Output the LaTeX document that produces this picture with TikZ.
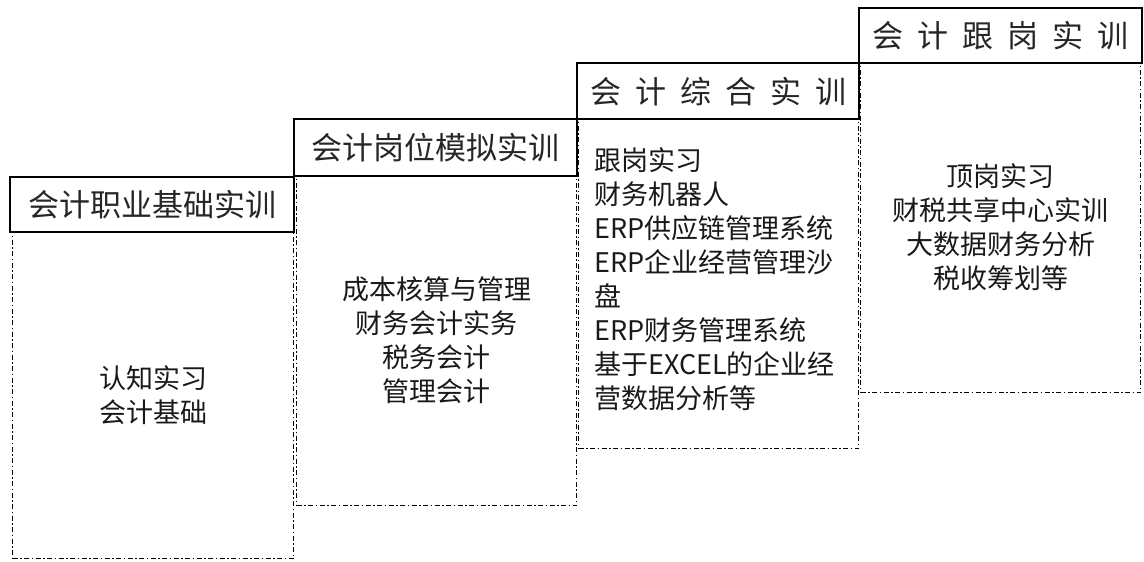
\documentclass[tikz,border=0pt]{standalone}
\usepackage{fontspec}
\setmainfont{Noto Sans CJK SC}
\newcommand{\hgap}{\hspace{14pt}}
\begin{document}
\begin{tikzpicture}[x=1pt,y=-1pt,
  headbox/.style={draw=black, line width=2.4pt, anchor=north west, inner sep=0pt,
    font=\fontsize{31}{36}\selectfont, text=black!85},
  bodybox/.style={draw=black, line width=1.3pt,
    dash pattern=on 5pt off 2.5pt on 1.5pt off 2.5pt,
    anchor=north west, inner sep=0pt, align=center,
    font=\fontsize{27}{34}\selectfont, text=black!90},
  bodytext/.style={align=left, inner sep=0pt,
    font=\fontsize{27}{34}\selectfont, text=black!90}]
\useasboundingbox (0,0) rectangle (1144,562);
% bodies
\node[bodybox, minimum width=281pt, minimum height=327pt] (b1) at (12,231) {认知实习\\会计基础};
\node[bodybox, minimum width=280pt, minimum height=330pt] (b2) at (296,175) {成本核算与管理\\财务会计实务\\税务会计\\管理会计};
\node[bodybox, minimum width=280pt, minimum height=330pt] (b3) at (578,118) {};
\node[bodybox, minimum width=280pt, minimum height=330pt] (b4) at (860,62) {顶岗实习\\财税共享中心实训\\大数据财务分析\\税收筹划等};
\node[bodytext, anchor=west] (t3) at (594,279) {跟岗实习\\财务机器人\\ERP供应链管理系统\\ERP企业经营管理沙\\盘\\ERP财务管理系统\\基于EXCEL的企业经\\营数据分析等};
% headers
\node[headbox, minimum width=284pt, minimum height=55pt] (h1) at (9,176) {会计职业基础实训};
\node[headbox, minimum width=283pt, minimum height=57pt] (h2) at (293,118) {会计岗位模拟实训};
\node[headbox, minimum width=282pt, minimum height=56pt] (h3) at (576,62) {会\hgap 计\hgap 综\hgap 合\hgap 实\hgap 训};
\node[headbox, minimum width=283pt, minimum height=55pt] (h4) at (858,7) {会\hgap 计\hgap 跟\hgap 岗\hgap 实\hgap 训};
\end{tikzpicture}
\end{document}
